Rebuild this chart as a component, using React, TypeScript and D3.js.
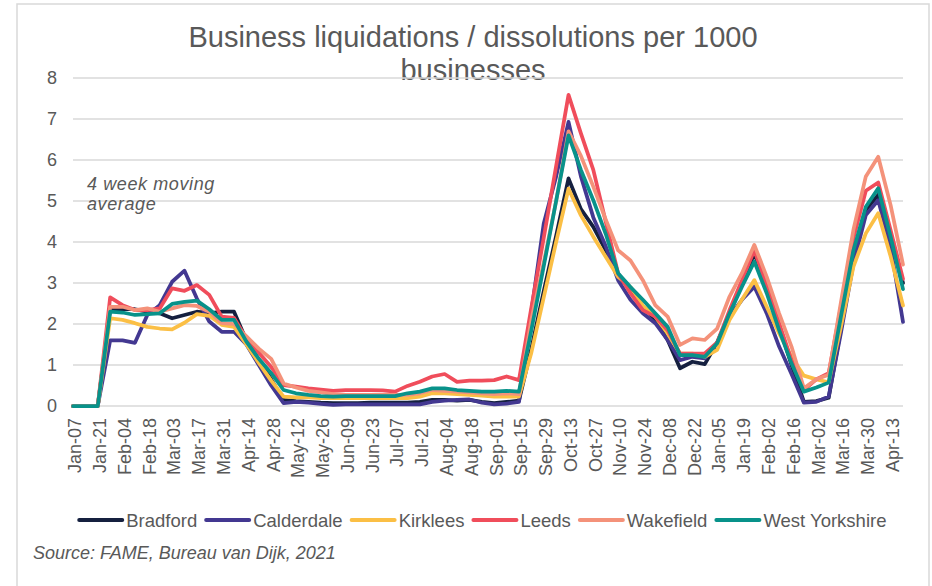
import React from "react";
import * as d3 from "d3";

const weeks = [
  "Jan-07","Jan-14","Jan-21","Jan-28","Feb-04","Feb-11","Feb-18","Feb-25","Mar-03","Mar-10",
  "Mar-17","Mar-24","Mar-31","Apr-07","Apr-14","Apr-21","Apr-28","May-05","May-12","May-19",
  "May-26","Jun-02","Jun-09","Jun-16","Jun-23","Jun-30","Jul-07","Jul-14","Jul-21","Jul-28",
  "Aug-04","Aug-11","Aug-18","Aug-25","Sep-01","Sep-08","Sep-15","Sep-22","Sep-29","Oct-06",
  "Oct-13","Oct-20","Oct-27","Nov-03","Nov-10","Nov-17","Nov-24","Dec-01","Dec-08","Dec-15",
  "Dec-22","Dec-29","Jan-05","Jan-12","Jan-19","Jan-26","Feb-02","Feb-09","Feb-16","Feb-23",
  "Mar-02","Mar-09","Mar-16","Mar-23","Mar-30","Apr-06","Apr-13","Apr-20"
];

const bradford = [
  0,0,0,
  2.36,2.36,2.36,2.3,2.26,2.14,2.22,2.3,2.26,2.3,2.3,
  1.6,1.12,0.65,0.15,
  0.12,0.1,0.08,0.07,0.07,0.07,0.08,0.08,0.08,0.08,0.1,0.15,0.15,0.13,0.15,0.1,0.07,0.1,0.13,
  1.4,2.8,4.15,5.55,
  4.8,4.37,3.8,3.15,2.85,2.42,2.1,1.61,0.92,1.08,1.02,
  1.55,2.25,3.0,3.72,2.9,1.95,1.0,
  0.1,0.12,0.2,
  1.9,3.56,4.78,5.15,4.15,3.0
];
const calderdale = [
  0,0,0,
  1.6,1.6,1.54,2.22,2.46,3.03,3.3,2.62,2.06,1.81,1.81,
  1.5,1.0,0.5,0.07,
  0.1,0.08,0.05,0.03,0.04,0.04,0.04,0.04,0.04,0.04,0.04,0.1,0.13,0.15,0.16,0.08,0.04,0.06,0.1,
  2.3,4.45,5.6,6.93,
  5.6,4.6,3.9,3.07,2.59,2.26,2.02,1.61,1.12,1.2,1.16,
  1.53,2.18,2.59,2.91,2.26,1.45,0.78,
  0.08,0.1,0.23,
  1.8,3.48,4.66,5.02,3.89,2.05
];
const kirklees = [
  0,0,0,
  2.14,2.1,2.02,1.93,1.89,1.87,2.03,2.24,2.2,1.98,1.93,
  1.5,1.05,0.62,0.23,
  0.21,0.21,0.19,0.19,0.19,0.19,0.19,0.19,0.19,0.19,0.23,0.31,0.31,0.29,0.27,0.25,0.23,0.23,0.23,
  1.3,2.65,4.0,5.3,
  4.65,4.13,3.64,3.15,2.9,2.45,2.18,1.77,1.28,1.28,1.2,
  1.37,2.1,2.6,3.07,2.42,1.77,1.2,
  0.74,0.65,0.58,
  1.95,3.4,4.21,4.7,3.65,2.45
];
const leeds = [
  0,0,0,
  2.65,2.46,2.34,2.34,2.38,2.87,2.81,2.95,2.71,2.18,2.15,
  1.65,1.3,0.95,0.51,
  0.47,0.43,0.4,0.37,0.39,0.39,0.39,0.38,0.35,0.49,0.59,0.72,0.78,0.59,0.62,0.62,0.63,0.72,0.63,
  2.4,4.1,5.85,7.59,
  6.65,5.76,4.5,3.24,2.75,2.34,2.18,1.85,1.28,1.28,1.28,
  1.55,2.34,3.07,3.8,2.91,2.02,1.12,
  0.39,0.65,0.8,
  2.45,4.1,5.25,5.45,4.29,3.1
];
const wakefield = [
  0,0,0,
  2.42,2.42,2.34,2.38,2.3,2.38,2.46,2.44,2.3,2.02,2.0,
  1.7,1.4,1.15,0.55,
  0.45,0.37,0.33,0.29,0.27,0.27,0.27,0.27,0.27,0.27,0.31,0.39,0.37,0.35,0.33,0.31,0.29,0.31,0.29,
  2.1,3.5,5.0,6.7,
  6.1,5.35,4.55,3.8,3.55,3.07,2.46,2.18,1.49,1.65,1.61,
  1.89,2.67,3.24,3.93,3.15,2.26,1.45,
  0.43,0.65,0.76,
  2.55,4.3,5.6,6.08,4.9,3.45
];
const westYorkshire = [
  0,0,0,
  2.3,2.28,2.22,2.24,2.26,2.49,2.54,2.57,2.36,2.1,2.1,
  1.57,1.15,0.8,0.39,
  0.31,0.27,0.24,0.23,0.24,0.24,0.24,0.24,0.24,0.31,0.35,0.43,0.43,0.39,0.37,0.35,0.35,0.37,0.35,
  1.85,3.41,5.0,6.6,
  5.76,5.02,4.2,3.24,2.9,2.59,2.26,1.93,1.24,1.24,1.2,
  1.53,2.26,2.91,3.52,2.75,1.85,1.04,
  0.35,0.45,0.57,
  2.2,3.8,4.86,5.31,4.13,2.85
];

const seriesNames = ["Bradford","Calderdale","Kirklees","Leeds","Wakefield","West Yorkshire"];
const seriesValues = [bradford, calderdale, kirklees, leeds, wakefield, westYorkshire];
const seriesColors = ["#15203f","#433891","#fbbf45","#f04d5b","#f4927a","#08928a"];
const yTicks = [0,1,2,3,4,5,6,7,8];

const FONT = "'Liberation Sans', Arial, sans-serif";
const GREY = "#595959";

export default function App() {
  const W = 932, H = 586;
  const x = d3.scalePoint<number>().domain(weeks.map((_, i) => i)).range([73, 903]);
  const y = d3.scaleLinear().domain([0, 8]).range([406, 78]);
  const line = d3.line<number>().x((_, i) => x(i) as number).y(d => y(d));

  const legendFont = 18.5;
  const ctx = typeof document !== "undefined" ? document.createElement("canvas").getContext("2d") : null;
  if (ctx) ctx.font = `${legendFont}px ${FONT}`;
  const swatch = 43, gapText = 4, gapItem = 9;
  const widths = seriesNames.map(n => (ctx ? ctx.measureText(n).width : n.length * 10));
  const total = widths.reduce((a, w) => a + swatch + gapText + w, 0) + gapItem * (seriesNames.length - 1);
  let lx = 483 - total / 2;
  const legendItems = seriesNames.map((n, i) => {
    const item = { name: n, x: lx, color: seriesColors[i] };
    lx += swatch + gapText + widths[i] + gapItem;
    return item;
  });

  return (
    <svg width={W} height={H} style={{ position: "absolute", left: 0, top: 0, background: "#fff" }} fontFamily={FONT}>
      <rect x={0} y={0} width={W} height={H} fill="#fff" />
      <rect x={17} y={4} width={912} height={620} fill="none" stroke="#d9d9d9" strokeWidth={1.5} />
      <text x={473} y={46.5} textAnchor="middle" fontSize={29} fill={GREY}>Business liquidations / dissolutions per 1000</text>
      <text x={473} y={80} textAnchor="middle" fontSize={29} fill={GREY}>businesses</text>

      {yTicks.map(t => (
        <g key={t}>
          <line x1={73} x2={903} y1={y(t)} y2={y(t)} stroke="#d9d9d9" strokeWidth={1.5} />
          <text x={57} y={y(t)} dy="0.35em" textAnchor="end" fontSize={18} fill={GREY}>{t}</text>
        </g>
      ))}

      {weeks.map((w, i) => i % 2 === 0 ? (
        <text key={w + i} transform={`translate(${(x(i) as number) + 2},418) rotate(-90)`} dy="0.35em"
          textAnchor="end" fontSize={18} fill={GREY}>{w}</text>
      ) : null)}

      <text x={87} y={190} fontSize={18} fontStyle="italic" letterSpacing={0.6} fill={GREY}>4 week moving</text>
      <text x={87} y={210} fontSize={18} fontStyle="italic" letterSpacing={0.6} fill={GREY}>average</text>

      {seriesValues.map((vals, k) => (
        <path key={seriesNames[k]} d={line(vals) || ""} fill="none" stroke={seriesColors[k]}
          strokeWidth={3.75} strokeLinejoin="round" strokeLinecap="round" />
      ))}

      {legendItems.map(it => (
        <g key={it.name}>
          <line x1={it.x} x2={it.x + swatch} y1={520} y2={520} stroke={it.color} strokeWidth={4} strokeLinecap="round" />
          <text x={it.x + swatch + gapText} y={527} fontSize={legendFont} fill={GREY}>{it.name}</text>
        </g>
      ))}

      <text x={33} y={559} fontSize={18} fontStyle="italic" fill={GREY}>Source: FAME, Bureau van Dijk, 2021</text>
    </svg>
  );
}
